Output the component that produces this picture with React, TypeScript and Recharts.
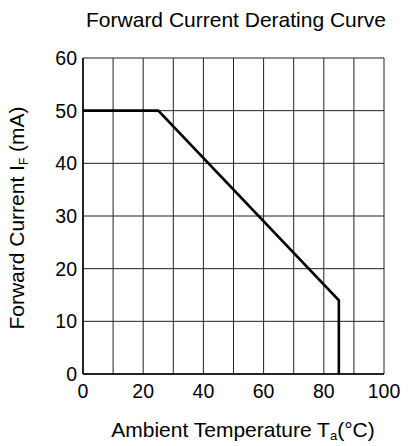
import { CartesianGrid, Line, LineChart, XAxis, YAxis } from "recharts";

// Forward current derating curve: flat at 50 mA up to 25 °C,
// linear derate to ~14 mA at 85 °C, then cut off.

const temperature = [0, 25, 85, 85];
const forwardCurrent = [50, 50, 14, 0];

const xTicks = [0, 10, 20, 30, 40, 50, 60, 70, 80, 90, 100];
const yTicks = [0, 10, 20, 30, 40, 50, 60];

const data = temperature.map((t, i) => ({ t, i: forwardCurrent[i] }));

const FONT = "'Liberation Sans', Arial, Helvetica, sans-serif";
const tickStyle = { fontFamily: FONT, fontSize: 19.5, fill: "#000" };

export default function App() {
  return (
    <div style={{ position: "absolute", left: 0, top: 0, width: 417, height: 446, background: "#fff" }}>
      <LineChart
        width={417}
        height={446}
        data={data}
        margin={{ top: 58, right: 33, bottom: 42, left: 43 }}
      >
        <CartesianGrid stroke="#222" strokeWidth={1} />
        <XAxis
          dataKey="t"
          type="number"
          domain={[0, 100]}
          ticks={xTicks}
          interval={0}
          tickFormatter={(v: number) => (v % 20 === 0 ? String(v) : "")}
          tick={tickStyle}
          tickLine={false}
          tickSize={6}
          tickMargin={4}
          axisLine={{ stroke: "#000", strokeWidth: 1.5 }}
          height={30}
        />
        <YAxis
          type="number"
          domain={[0, 60]}
          ticks={yTicks}
          interval={0}
          tick={tickStyle}
          tickLine={false}
          tickSize={4}
          tickMargin={2}
          axisLine={{ stroke: "#000", strokeWidth: 1.5 }}
          width={40}
        />
        <Line
          dataKey="i"
          type="linear"
          stroke="#000"
          strokeWidth={2.6}
          dot={false}
          isAnimationActive={false}
        />
      </LineChart>
      <svg
        width={417}
        height={446}
        style={{ position: "absolute", left: 0, top: 0, pointerEvents: "none" }}
      >
        <text x={236} y={27} textAnchor="middle" fontFamily={FONT} fontSize={21} fill="#000">
          Forward Current Derating Curve
        </text>
        <text x={243} y={437} textAnchor="middle" fontFamily={FONT} fontSize={21} fill="#000">
          Ambient Temperature T
          <tspan fontSize={13} dy={3}>a</tspan>
          <tspan fontSize={21} dy={-3}>(°C)</tspan>
        </text>
        <text
          transform="translate(24,218) rotate(-90)"
          textAnchor="middle"
          fontFamily={FONT}
          fontSize={21}
          fill="#000"
        >
          Forward Current I
          <tspan fontSize={12} dy={4}>F</tspan>
          <tspan fontSize={21} dy={-4}> (mA)</tspan>
        </text>
      </svg>
    </div>
  );
}
